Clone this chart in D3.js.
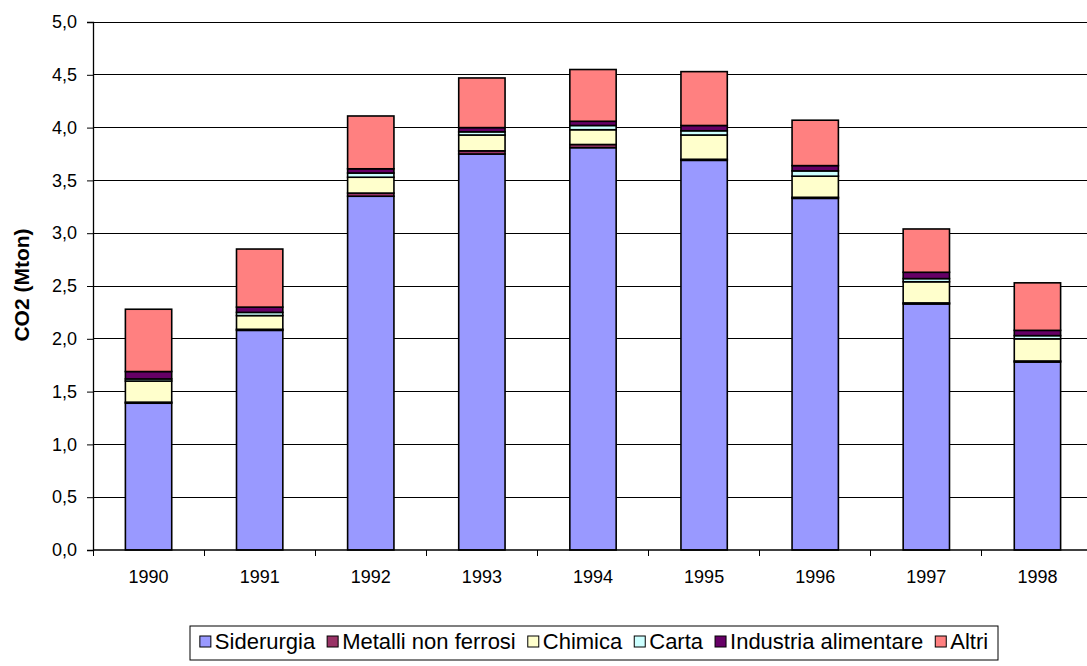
<!DOCTYPE html>
<html>
<head>
<meta charset="utf-8">
<script src="https://cdn.jsdelivr.net/npm/d3@7"></script>
<style>
  html, body { margin: 0; padding: 0; background: #fff; }
  svg { display: block; font-family: "Liberation Sans", Arial, sans-serif; }
</style>
</head>
<body>
<svg id="chart" width="1087" height="666"></svg>
<script>
// CO2 emissions by industrial sector (Mton), 1990-1998
const years = ["1990", "1991", "1992", "1993", "1994", "1995", "1996", "1997", "1998"];
const sectors = ["Siderurgia", "Metalli non ferrosi", "Chimica", "Carta", "Industria alimentare", "Altri"];
const siderurgia         = [1.39, 2.08, 3.35, 3.75, 3.81, 3.69, 3.33, 2.33, 1.78];
const metalliNonFerrosi  = [0.01, 0.01, 0.03, 0.03, 0.03, 0.01, 0.01, 0.01, 0.01];
const chimica            = [0.20, 0.13, 0.15, 0.15, 0.14, 0.23, 0.20, 0.20, 0.21];
const carta              = [0.02, 0.03, 0.04, 0.03, 0.04, 0.04, 0.05, 0.03, 0.03];
const industriaAlimentare= [0.07, 0.05, 0.04, 0.04, 0.04, 0.05, 0.05, 0.06, 0.05];
const altri              = [0.59, 0.55, 0.50, 0.47, 0.49, 0.51, 0.43, 0.41, 0.45];
const yTicks = [0, 0.5, 1, 1.5, 2, 2.5, 3, 3.5, 4, 4.5, 5];
const colors = ["#9999FF", "#993366", "#FFFFCC", "#CCFFFF", "#660066", "#FF8080"];

const seriesValues = [siderurgia, metalliNonFerrosi, chimica, carta, industriaAlimentare, altri];
const rows = years.map((yr, i) => {
  const r = { year: yr };
  sectors.forEach((s, k) => { r[s] = seriesValues[k][i]; });
  return r;
});

const svg = d3.select("#chart");
const plotLeft = 93, plotRight = 1093, plotTop = 22, plotBottom = 550;

const x = d3.scaleBand().domain(years).range([plotLeft, plotRight]).paddingInner(0.583).paddingOuter(0.2915);
const xBand = d3.scaleBand().domain(years).range([plotLeft, plotRight]).padding(0);
const y = d3.scaleLinear().domain([0, 5]).range([plotBottom, plotTop]);

const fmt = v => d3.format(".1f")(v).replace(".", ",");

// horizontal gridlines
svg.append("g")
  .selectAll("line")
  .data(yTicks.filter(t => t > 0))
  .join("line")
  .attr("x1", plotLeft).attr("x2", plotRight)
  .attr("y1", d => y(d)).attr("y2", d => y(d))
  .attr("stroke", "#000").attr("stroke-width", 1)
  .attr("shape-rendering", "crispEdges");

// stacked bars
const stack = d3.stack().keys(sectors)(rows);
svg.append("g")
  .selectAll("g")
  .data(stack)
  .join("g")
  .attr("fill", (d, i) => colors[i])
  .selectAll("rect")
  .data(d => d)
  .join("rect")
  .attr("x", d => x(d.data.year))
  .attr("width", x.bandwidth())
  .attr("y", d => y(d[1]))
  .attr("height", d => y(d[0]) - y(d[1]))
  .attr("stroke", "#000")
  .attr("stroke-width", 1.6);

// y axis
const yAxis = svg.append("g")
  .attr("transform", `translate(${plotLeft},0)`)
  .call(d3.axisLeft(y).tickValues(yTicks).tickFormat(fmt).tickSize(6).tickPadding(10));
yAxis.select(".domain").attr("stroke", "#000").attr("stroke-width", 1.3);
yAxis.selectAll(".tick line").attr("stroke", "#000");
yAxis.selectAll("text").attr("font-size", 18).attr("fill", "#000")
  .attr("font-family", "Liberation Sans, Arial, sans-serif");

// x axis
const xAxis = svg.append("g")
  .attr("transform", `translate(0,${plotBottom})`)
  .call(d3.axisBottom(xBand).tickSize(0).tickPadding(20));
xAxis.select(".domain").remove();
xAxis.selectAll("text").attr("font-size", 18).attr("fill", "#000")
  .attr("font-family", "Liberation Sans, Arial, sans-serif");
svg.append("line")
  .attr("x1", plotLeft).attr("x2", plotRight).attr("y1", plotBottom).attr("y2", plotBottom)
  .attr("stroke", "#000").attr("stroke-width", 1.3);
svg.append("g")
  .selectAll("line")
  .data(years.map(d => xBand(d)).concat([plotRight]))
  .join("line")
  .attr("x1", d => d).attr("x2", d => d)
  .attr("y1", plotBottom).attr("y2", plotBottom + 6)
  .attr("stroke", "#000").attr("shape-rendering", "crispEdges");

// y axis title
svg.append("text")
  .attr("transform", `translate(29,${(plotTop + plotBottom) / 2 - 1}) rotate(-90)`)
  .attr("text-anchor", "middle")
  .attr("font-size", 21).attr("font-weight", "bold")
  .text("CO2 (Mton)");

// legend
const legend = svg.append("g");
const legBox = legend.append("rect")
  .attr("fill", "#fff").attr("stroke", "#000").attr("stroke-width", 1);
const items = legend.selectAll("g.item").data(sectors).join("g").attr("class", "item");
items.append("rect")
  .attr("y", 1)
  .attr("width", 11).attr("height", 11)
  .attr("fill", (d, i) => colors[i]).attr("stroke", "#000").attr("stroke-width", 1);
items.append("text")
  .attr("x", 15).attr("y", 14)
  .attr("font-size", 22)
  .text(d => d);
const legLeft = 190, legRight = 998;
const gap = 12;
const offsets = [];
let cx = 0;
items.each(function () {
  offsets.push(cx);
  cx += 15 + d3.select(this).select("text").node().getComputedTextLength() + gap;
});
const totalW = cx - gap;
const padX = (legRight - legLeft - totalW) / 2;
items.attr("transform", (d, i) => `translate(${legLeft + padX + offsets[i]},635)`);
legBox.attr("x", legLeft).attr("y", 626).attr("width", legRight - legLeft).attr("height", 34);
</script>
</body>
</html>
